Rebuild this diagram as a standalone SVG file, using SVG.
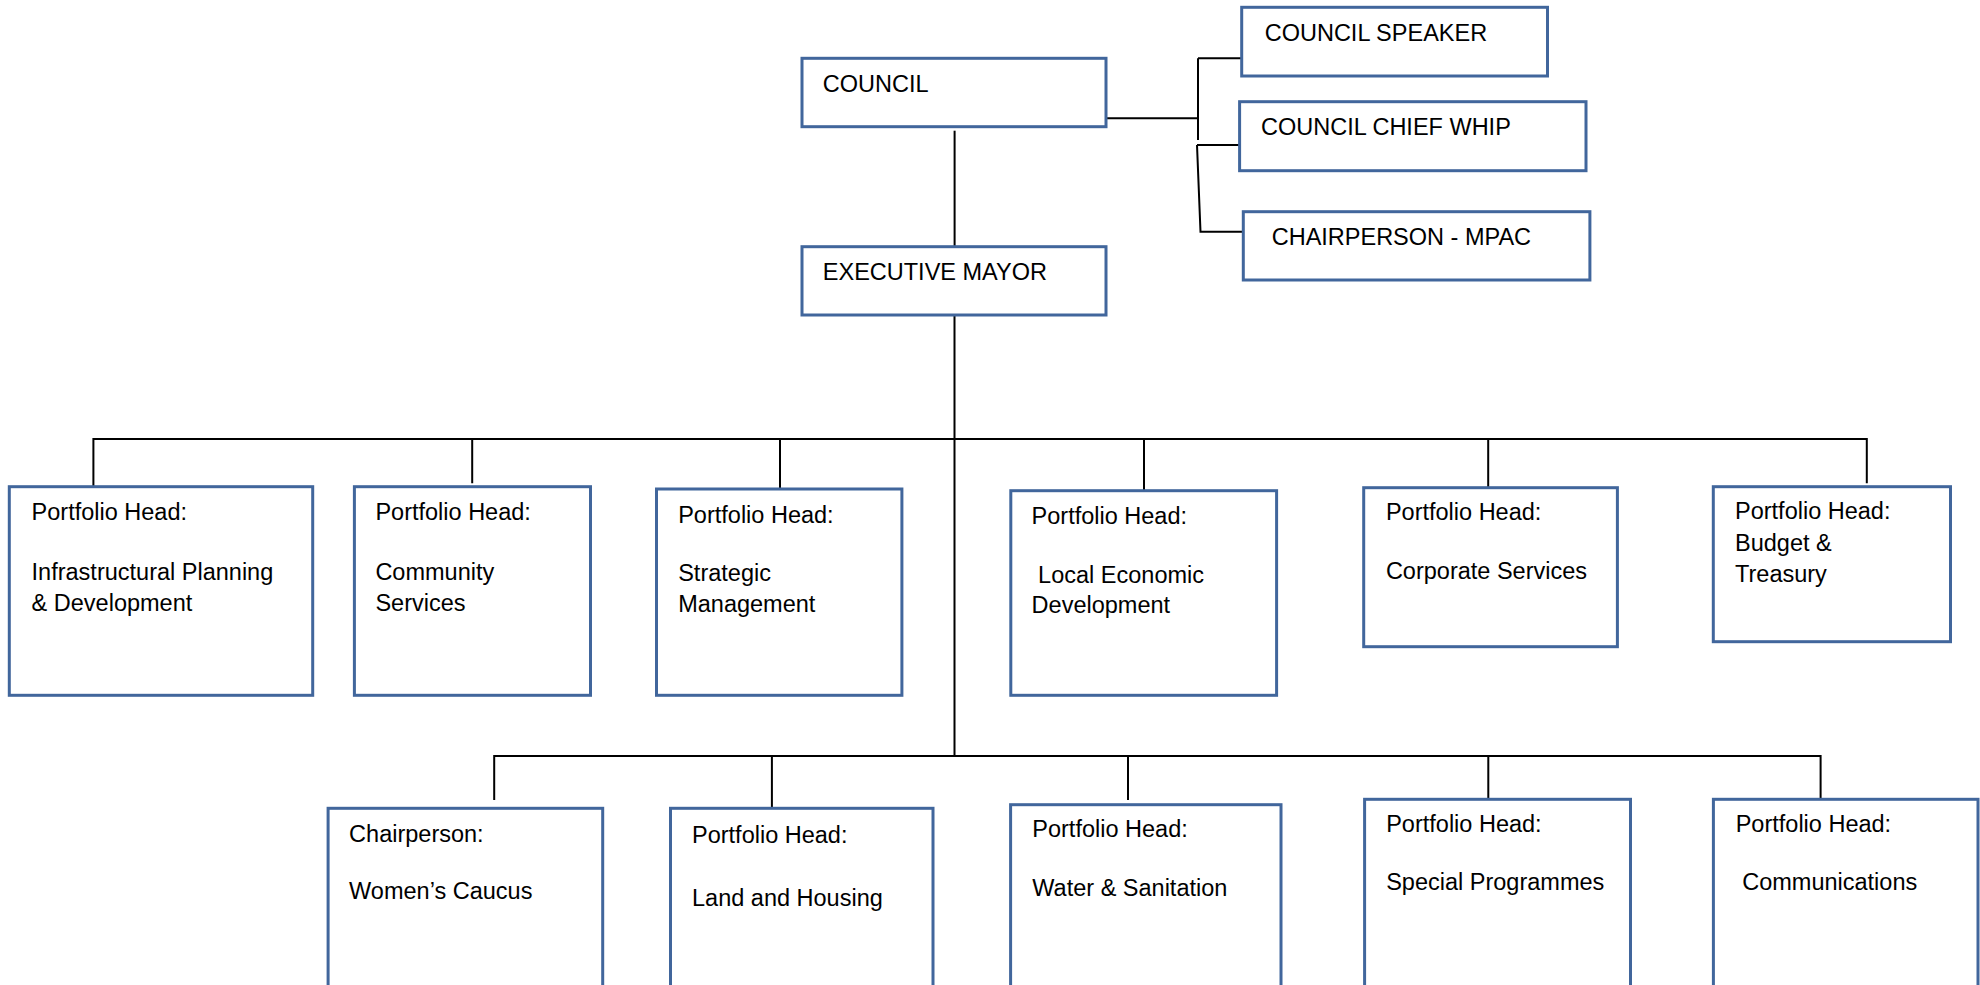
<svg xmlns="http://www.w3.org/2000/svg" width="1980" height="985" viewBox="0 0 1980 985">
<style>
.box{fill:#ffffff;stroke:#41669c;stroke-width:3}
.t{font-family:"Liberation Sans",Arial,sans-serif;font-size:23.5px;fill:#000000}
.c{fill:none;stroke:#000000;stroke-width:2}
</style>
<rect width="1980" height="985" fill="#ffffff"/>
<g id="connectors">
<path class="c" d="M1106,118.3 H1198 M1198,58.3 V140 M1242,58.3 H1198 M1197,145 H1240 M1197,145 L1200.5,231.7 H1243"/>
<path class="c" d="M954.6,130.7 V247"/>
<path class="c" d="M954.5,315 V756"/>
<path class="c" d="M93.4,489 V439 H1866.8 V483.3 M472.2,439 V483.3 M780,439 V491.7 M1144,439 V490.7 M1488.2,439 V487.7"/>
<path class="c" d="M494.2,800 V756 H1820.6 V799.3 M771.9,756 V809 M1128,756 V800 M1488.3,756 V801.7"/>
</g>
<g id="council"><rect class="box" x="802" y="58.3" width="304" height="68.4"/><text class="t" x="822.8" y="91.7">COUNCIL</text></g>
<g id="speaker"><rect class="box" x="1241.7" y="7.3" width="305.8" height="68.7"/><text class="t" x="1264.7" y="40.7">COUNCIL SPEAKER</text></g>
<g id="chiefwhip"><rect class="box" x="1239.6" y="101.7" width="346.4" height="69"/><text class="t" x="1261" y="135">COUNCIL CHIEF WHIP</text></g>
<g id="mpac"><rect class="box" x="1243.3" y="211.7" width="346.6" height="68.3"/><text class="t" x="1271.7" y="245">CHAIRPERSON - MPAC</text></g>
<g id="mayor"><rect class="box" x="802" y="246.7" width="304" height="68.3"/><text class="t" x="822.8" y="280">EXECUTIVE MAYOR</text></g>
<g id="infra"><rect class="box" x="9.3" y="486.7" width="303.4" height="208.6"/><text class="t" x="31.6" y="520">Portfolio Head:</text><text class="t" x="31.6" y="580">Infrastructural Planning</text><text class="t" x="31.6" y="610.7">&amp; Development</text></g>
<g id="community"><rect class="box" x="354.4" y="486.7" width="236.1" height="208.6"/><text class="t" x="375.4" y="520">Portfolio Head:</text><text class="t" x="375.4" y="580">Community</text><text class="t" x="375.4" y="610.7">Services</text></g>
<g id="strategic"><rect class="box" x="656.5" y="489" width="245.4" height="206.3"/><text class="t" x="678.2" y="522.7">Portfolio Head:</text><text class="t" x="678.2" y="581">Strategic</text><text class="t" x="678.2" y="611.7">Management</text></g>
<g id="led"><rect class="box" x="1010.8" y="490.7" width="265.8" height="204.6"/><text class="t" x="1031.6" y="524">Portfolio Head:</text><text class="t" x="1031.6" y="582.7" xml:space="preserve"> Local Economic</text><text class="t" x="1031.6" y="612.7">Development</text></g>
<g id="corporate"><rect class="box" x="1363.7" y="487.7" width="253.7" height="159"/><text class="t" x="1385.9" y="520">Portfolio Head:</text><text class="t" x="1385.9" y="579.3">Corporate Services</text></g>
<g id="budget"><rect class="box" x="1713.3" y="486.7" width="237.2" height="155"/><text class="t" x="1735" y="519.3">Portfolio Head:</text><text class="t" x="1735" y="550.7">Budget &amp;</text><text class="t" x="1735" y="581.7">Treasury</text></g>
<g id="women"><rect class="box" x="328.1" y="808.3" width="274.6" height="190"/><text class="t" x="349.1" y="841.7">Chairperson:</text><text class="t" x="349.1" y="899">Women’s Caucus</text></g>
<g id="land"><rect class="box" x="670.5" y="808.3" width="262.5" height="190"/><text class="t" x="692" y="843.3">Portfolio Head:</text><text class="t" x="692" y="906">Land and Housing</text></g>
<g id="water"><rect class="box" x="1010.6" y="804.7" width="270.4" height="195"/><text class="t" x="1032.3" y="837.3">Portfolio Head:</text><text class="t" x="1032.3" y="895.7">Water &amp; Sanitation</text></g>
<g id="special"><rect class="box" x="1364.6" y="799.3" width="265.9" height="200"/><text class="t" x="1386.2" y="831.7">Portfolio Head:</text><text class="t" x="1386.2" y="890">Special Programmes</text></g>
<g id="comms"><rect class="box" x="1713.4" y="799.3" width="264.6" height="200"/><text class="t" x="1735.7" y="831.7">Portfolio Head:</text><text class="t" x="1735.7" y="890" xml:space="preserve"> Communications</text></g>
</svg>
